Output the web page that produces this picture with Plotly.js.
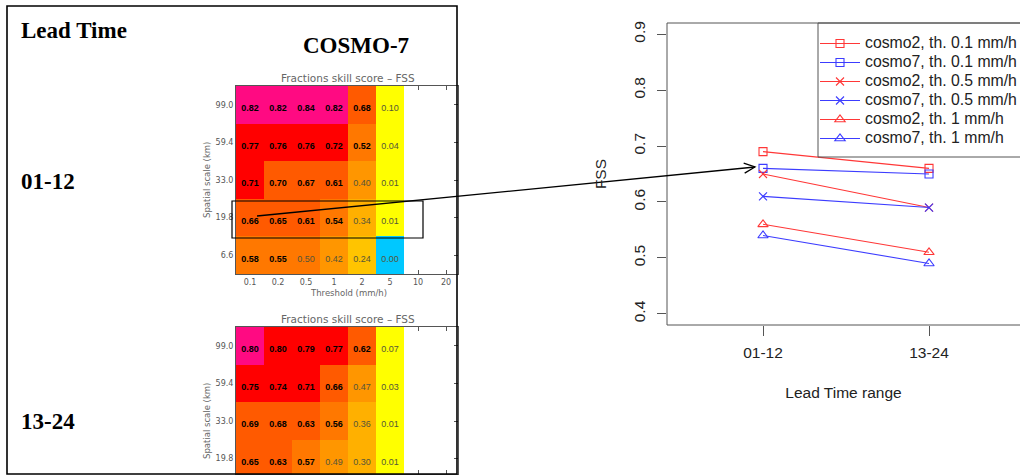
<!DOCTYPE html>
<html><head><meta charset="utf-8">
<script src="https://cdn.plot.ly/plotly-3.0.1.min.js"></script>
<style>html,body{margin:0;padding:0;background:#fff;}#chart{width:1020px;height:476px;}</style>
</head><body><div id="chart"></div>
<script>
// ---------- data ----------
const thresholds = ['0.1', '0.2', '0.5', '1', '2', '5', '10', '20'];
const scales = ['6.6', '19.8', '33.0', '59.4', '99.0'];       // bottom -> top
// COSMO-7 FSS, lead time 01-12 (rows 6.6 ... 99.0 km, columns 0.1 ... 5 mm/h)
const fss0112 = [
  [0.58, 0.55, 0.50, 0.42, 0.24, 0.00],
  [0.66, 0.65, 0.61, 0.54, 0.34, 0.01],
  [0.71, 0.698, 0.67, 0.61, 0.40, 0.01],
  [0.77, 0.76, 0.76, 0.72, 0.52, 0.04],
  [0.82, 0.82, 0.84, 0.82, 0.68, 0.10]
];
// COSMO-7 FSS, lead time 13-24 (visible rows 19.8 ... 99.0 km)
const fss1324 = [
  [0.65, 0.63, 0.57, 0.49, 0.30, 0.01],
  [0.69, 0.68, 0.63, 0.56, 0.36, 0.01],
  [0.75, 0.74, 0.71, 0.66, 0.47, 0.03],
  [0.80, 0.798, 0.79, 0.77, 0.62, 0.07]
];
const binEdges = [0, 0.005, 0.2, 0.3, 0.4, 0.5, 0.6, 0.7, 0.8, 1.0];
const binColors = ['#00c8ff', '#ffff00', '#ffc400', '#ffb000', '#ff9600', '#ff7800', '#ff5a00', '#ff0000', '#ff0a82'];

const leadRanges = ['01-12', '13-24'];
const cosmo2_th01 = [0.69, 0.66];
const cosmo7_th01 = [0.66, 0.65];
const cosmo2_th05 = [0.65, 0.59];
const cosmo7_th05 = [0.61, 0.59];
const cosmo2_th1 = [0.56, 0.51];
const cosmo7_th1 = [0.54, 0.49];

// ---------- helpers ----------
const W = 1020, H = 476;
const px = v => v / W, py = v => 1 - v / H;
const colorscale = [];
binColors.forEach((c, i) => { colorscale.push([binEdges[i], c]); colorscale.push([binEdges[i + 1], c]); });

function heat(z, rowIdx, xa, ya) {
  return {type: 'heatmap', z: z, x: z[0].map((_, i) => i), y: rowIdx, xaxis: xa, yaxis: ya,
    colorscale: colorscale, zmin: 0, zmax: 1, showscale: false, hoverinfo: 'skip', zsmooth: false};
}
const TEXT_DROP = 0.11;   // cell labels sit slightly below the cell centre
function labels(z, rowIdx, xa, ya, strong) {
  const xs = [], ys = [], ts = [];
  z.forEach((row, r) => row.forEach((v, c) => {
    if ((v > 0.5) === strong) { xs.push(c); ys.push(rowIdx[r] - TEXT_DROP); ts.push(v.toFixed(2)); }
  }));
  return {type: 'scatter', mode: 'text', x: xs, y: ys, text: ts, xaxis: xa, yaxis: ya,
    showlegend: false, hoverinfo: 'skip', cliponaxis: false,
    textfont: strong ? {family: 'Liberation Sans, Arial', size: 9, color: '#000', weight: 700}
                     : {family: 'Liberation Sans, Arial', size: 9, color: '#55553a'}};
}

const rows1 = [0, 1, 2, 3, 4];
const rows2 = [1, 2, 3, 4];
const RED = 'rgb(255,55,55)', BLUE = 'rgb(60,60,255)';
function line(name, y, color, symbol, size) {
  return {type: 'scatter', mode: 'lines+markers', name: '<span style="font-size:15.8px">' + name + '</span>',
    x: [1, 2], y: y, xaxis: 'x3', yaxis: 'y3',
    line: {color: color, width: 1.1},
    marker: {symbol: symbol, size: size, color: color, line: {color: color, width: 1.1}}};
}

const data = [
  heat(fss0112, rows1, 'x', 'y'),
  labels(fss0112, rows1, 'x', 'y', true),
  labels(fss0112, rows1, 'x', 'y', false),
  heat(fss1324, rows2, 'x2', 'y2'),
  labels(fss1324, rows2, 'x2', 'y2', true),
  labels(fss1324, rows2, 'x2', 'y2', false),
  line('cosmo2, th. 0.1 mm/h', cosmo2_th01, RED, 'square-open', 8),
  line('cosmo7, th. 0.1 mm/h', cosmo7_th01, BLUE, 'square-open', 8),
  line('cosmo2, th. 0.5 mm/h', cosmo2_th05, RED, 'x-thin-open', 8),
  line('cosmo7, th. 0.5 mm/h', cosmo7_th05, BLUE, 'x-thin-open', 8),
  line('cosmo2, th. 1 mm/h', cosmo2_th1, RED, 'triangle-up-open', 9),
  line('cosmo7, th. 1 mm/h', cosmo7_th1, BLUE, 'triangle-up-open', 9)
];

const hmTick = {family: 'DejaVu Sans', size: 8, color: '#555'};
const hmX = {range: [-0.5, 7.5 - 2 / 28], tickvals: thresholds.map((_, i) => i), ticktext: thresholds,
  ticks: 'inside', ticklen: 4, tickcolor: '#555', showline: true, linecolor: '#555', linewidth: 1,
  mirror: 'ticks', layer: 'below traces', showgrid: false, zeroline: false, tickfont: hmTick, fixedrange: true};
const hmY = {tickvals: scales.map((_, i) => i), ticktext: scales,
  ticks: 'inside', ticklen: 4, tickcolor: '#555', showline: true, linecolor: '#555', linewidth: 1,
  mirror: 'ticks', layer: 'below traces', showgrid: false, zeroline: false, tickfont: hmTick, fixedrange: true};

const serif = {family: 'Liberation Serif, Times New Roman', size: 23, color: '#000', weight: 700};
const titleFont = {family: 'DejaVu Sans', size: 10.5, color: '#666'};
const axFont = {family: 'DejaVu Sans', size: 8.5, color: '#666'};
const sans = {family: 'Liberation Sans, Arial', size: 15.5, color: '#222'};
const legFont = {family: 'Liberation Sans, Arial', size: 12.3, color: '#222'};

const ann = (x, y, text, font, opts) => Object.assign({xref: 'paper', yref: 'paper', x: px(x), y: py(y), text: text,
  showarrow: false, font: font, xanchor: 'center', yanchor: 'middle'}, opts || {});

// arrow from the highlighted row to the first lead-time point (pixel geometry of the decoration)
const tail = [257, 216], tip = [755, 167];
const dx = tail[0] - tip[0], dy = tail[1] - tip[1], dl = Math.hypot(dx, dy);
const ux = dx / dl, uy = dy / dl, headLen = 12, ang = 25 * Math.PI / 180;
const arm = s => [tip[0] + headLen * (ux * Math.cos(ang) - s * uy * Math.sin(ang)),
                  tip[1] + headLen * (uy * Math.cos(ang) + s * ux * Math.sin(ang))];
const P = p => px(p[0]) + ',' + py(p[1]);
const a1 = arm(1), a2 = arm(-1);

const layout = {
  width: W, height: H, autosize: false, margin: {l: 0, r: 0, t: 0, b: 0, autoexpand: false},
  paper_bgcolor: '#fff', plot_bgcolor: 'rgba(0,0,0,0)', showlegend: true,
  xaxis: Object.assign({}, hmX, {domain: [px(236), px(458)], anchor: 'y'}),
  yaxis: Object.assign({}, hmY, {domain: [py(274), py(86)], range: [-0.5, 4.5], anchor: 'x'}),
  xaxis2: Object.assign({}, hmX, {domain: [px(236), px(458)], anchor: 'y2', showticklabels: false}),
  yaxis2: Object.assign({}, hmY, {domain: [py(474), py(327)], range: [4.5 - 147 / 37.6, 4.5], anchor: 'x2'}),
  xaxis3: {domain: [px(667), 1], range: [0.4217, 2.548], anchor: 'y3', tickvals: [1, 2], ticktext: leadRanges,
    ticks: 'outside', ticklen: 10, tickwidth: 1, tickcolor: '#555', showline: false, showgrid: false, zeroline: false,
    ticklabelstandoff: 3, tickfont: sans, title: {text: 'Lead Time range', font: sans, standoff: 27}, fixedrange: true},
  yaxis3: {domain: [py(325), py(23)], range: [0.38, 0.92], anchor: 'x3', tick0: 0.4, dtick: 0.1, tickformat: '.1f',
    ticks: 'outside', ticklen: 9, tickwidth: 1, tickcolor: '#555', showline: false, showgrid: false, zeroline: false,
    ticklabelstandoff: 6, tickangle: -90, tickfont: sans, title: {text: 'FSS', font: sans, standoff: 20}, fixedrange: true},
  legend: {x: px(815), y: py(29), xanchor: 'left', yanchor: 'top', bgcolor: 'rgba(0,0,0,0)', borderwidth: 0,
    font: legFont, tracegroupgap: 0, itemwidth: 40},
  shapes: [
    {type: 'rect', xref: 'paper', yref: 'paper', x0: px(7), x1: px(457), y0: py(474), y1: py(6), line: {color: '#000', width: 1.6}},
    {type: 'rect', xref: 'paper', yref: 'paper', x0: px(232), x1: px(423), y0: py(238), y1: py(201), line: {color: '#000', width: 1.2}},
    {type: 'rect', xref: 'paper', yref: 'paper', x0: px(667), x1: 1.02, y0: py(325), y1: py(23), line: {color: '#555', width: 1}},
    {type: 'rect', xref: 'paper', yref: 'paper', x0: px(818), x1: 1.02, y0: py(157), y1: py(23), line: {color: '#555', width: 1}},
    {type: 'path', xref: 'paper', yref: 'paper', path: 'M' + P(tail) + 'L' + P(tip), line: {color: '#000', width: 1.3}},
    {type: 'path', xref: 'paper', yref: 'paper', path: 'M' + P(a1) + 'L' + P(tip) + 'L' + P(a2), line: {color: '#000', width: 1.3}}
  ],
  annotations: [
    ann(19, 31, 'Lead Time', serif, {xanchor: 'left'}),
    ann(356, 46, 'COSMO-7', serif),
    ann(19, 181, '01-12', serif, {xanchor: 'left'}),
    ann(19, 421, '13-24', serif, {xanchor: 'left'}),
    ann(348, 78, 'Fractions skill score – FSS', titleFont),
    ann(348, 293, 'Threshold (mm/h)', axFont),
    ann(207, 180, 'Spatial scale (km)', axFont, {textangle: -90}),
    ann(348, 319, 'Fractions skill score – FSS', titleFont),
    ann(207, 421, 'Spatial scale (km)', axFont, {textangle: -90})
  ]
};

Plotly.newPlot('chart', data, layout, {staticPlot: true, displayModeBar: false});
</script></body></html>
